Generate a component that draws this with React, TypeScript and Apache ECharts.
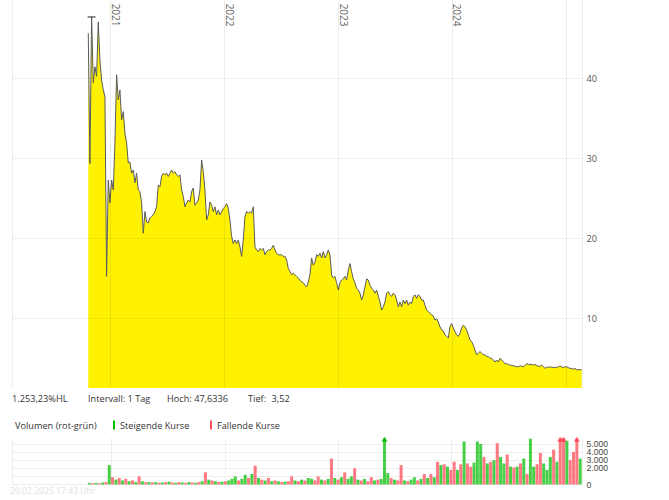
import React, { useEffect, useRef } from "react";
import * as echarts from "echarts";

// Closing prices (EUR), sampled every ~5.34 days from 21.10.2020 to 17.02.2025
const priceA = [
  45.6, 29.3, 47.63, 39.4, 41.4, 40.2, 47.0, 42.2, 39.75, 38.5, 37.7, 15.2, 27.25, 24.4, 27.25, 26,
  31.9, 40.4, 37.25, 38.5, 34.75, 35.8, 33.1, 31.9, 29.4, 29.5, 28.1, 28.5, 26.9, 28.1, 26, 25.8,
  24.4, 20.6, 23.3, 22.0, 21.9, 22.5, 22.7, 22.9, 23.3, 23.9, 26.6, 26.4, 27.7, 28.1, 27.9, 28.1,
  27.7, 28.1, 28.5, 28.1, 28.3, 27.9, 27.7, 27.9, 26, 25.2, 23.9, 24.4, 24.75, 24.5, 25.8, 26.25,
];
const priceB = [
  24.1, 24.4, 24.75, 26, 29.75, 28.3, 26, 22.25, 22.9, 24.5, 24.1, 23.3, 23.9, 22.9, 23.5, 22.9,
  23.3, 23.7, 23.9, 24.3, 23.7, 22.25, 20.2, 19.3, 19.75, 19.3, 19.75, 18.9, 17.7, 19.75, 22.7, 23.3,
  23.1, 23.3, 23.1, 23.9, 18.9, 18.5, 18.3, 18.7, 18.5, 18.7, 17.9, 18.3, 18.5, 18.5, 18.7, 19.1,
  18.5, 18.1, 17.9, 17.9, 17.9, 17.7, 17.7, 17.25, 16.2, 15.8, 15.4, 15.6, 15.4, 15.2, 15.0, 14.75,
  14.5, 14.4, 14.1, 13.9, 14.5, 15.4, 17.5, 16.6, 17.0, 17.9, 17.7, 18.1, 17.5, 18.3, 17.5, 17.9,
  18.5, 17.9, 15.4, 15.0,
];
const priceC = [
  15.2, 14.4, 13.5, 14.4, 14.75, 14.9, 15.2, 14.75, 16, 16.8, 15.8, 14.9, 14.4, 13.7, 13.5, 13.1,
  12.25, 12.9, 13.9, 14.9, 14.75, 14.1, 13.7, 13.5, 13.1, 13.5, 12.7, 12.0, 11.0, 11.4, 12.0, 13.1,
  13.3, 12.9, 12.7, 13.1, 12.9, 12.25, 11.4, 12.0, 11.4, 12.25, 11.8, 12.25, 11.6, 12.0, 11.8, 12.7,
  12.9, 12.45, 12.9, 12.7, 12.25, 12.25, 11.6, 11.0, 10.8, 10.6, 10.4, 10.25, 9.75, 9.9, 9.5, 8.9,
  8.5, 8.4, 7.9, 7.7, 7.5,
];
const priceD = [
  8.9, 9.3, 8.75, 8.3, 7.9, 7.7, 8.1, 8.75, 9.1, 8.9, 8.5, 7.9, 7.25, 7.05, 6.6, 6.0,
  5.4, 5.6, 5.8, 5.6, 5.4, 5.4, 5.2, 5.2, 4.96, 4.96, 4.75, 4.5, 4.75, 4.5, 4.96, 4.75,
  4.5, 4.3, 4.3, 4.2, 4.1, 4.1, 4.0, 4.0, 3.9, 3.9, 4.0, 4.0, 3.9, 4.05, 4.3, 4.2,
  4.2, 4.2, 4.1, 4.2, 4.05, 4.0, 3.95, 4.1, 3.9, 3.7, 3.9, 3.8, 3.9, 3.85, 3.8, 3.85,
  3.8, 3.9, 4.0, 3.9, 3.8, 3.9, 3.9, 3.8, 3.7, 3.7, 3.6, 3.7, 3.53, 3.55, 3.52, 3.55,
];

// Volume, one entry every 2 price samples; positive = steigend (green), negative = fallend (red)
const volumes = [
  200, -150, 200, -150, 250, -300, 2400, -900, 600, -800,
  500, -700, 400, -500, 300, -1000, 400, -300, 300, -250,
  300, -200, 250, -300, 350, -250, 200, -300, 250, -200,
  300, -250, 200, -300, 400, -1500, 600, -500, 400, -300,
  350, -400, 500, 700, 1000, -500, 700, 1200, -800, 1300,
  -2300, 800, -600, 500, -800, 400, -500, 400, -300, 350,
  -400, -1000, 500, -400, 600, -500, 800, 700, -500, -1000,
  600, -500, 700, -3200, 800, -600, 900, -1500, 700, 1000,
  -2000, 600, -500, 700, -400, -900, 500, -600, 700, 6500,
  1400, -800, 600, -500, -2400, 500, -400, 600, 900, -500,
  700, -1300, 800, -1300, 900, -2800, 2400, -2500, 2200, -1800,
  -2800, 1800, -2500, 5300, -2600, -2200, 2700, 5300, 5000, -3400,
  2600, -2800, 3000, -5100, 3400, 2600, -3700, 2200, -2100, 2200,
  -2600, 3200, -1300, 5650, 2200, -2500, -3900, 2600, 1800, 3400,
  -4300, 2800, -6500, -6500, 5400, -3000, -4000, -6500, 3200,
];

const volTickLabels = ["0", "1.000", "2.000", "3.000", "4.000", "5.000"];
const statHL = "1.253,23%HL";
const statInterval = "Intervall: 1 Tag";
const statHigh = "Hoch: 47,6336";
const statLowLabel = "Tief:";
const statLow = "3,52";
const volumeTitle = "Volumen (rot-grün)";
const upName = "Steigende Kurse";
const downName = "Fallende Kurse";
const footer = "20.02.2025 17:43 Uhr";

const DAY = 86400000;
const startTime = new Date(2020, 9, 21, 8).getTime();
const stepDays = 5.34;
const volStep = 2;
const axisMin = new Date(2020, 1, 20).getTime();
const axisMax = new Date(2025, 1, 21).getTime();
const priceMin = 1.25;
const priceMax = 49.75;
const volMax = 5700;

const FONT = "'Open Sans', 'Noto Sans', sans-serif";

export default function App() {
  const ref = useRef<HTMLDivElement>(null);
  useEffect(() => {
    if (!ref.current) return;
    const chart = echarts.init(ref.current, undefined, { renderer: "svg" });
    const prices = [...priceA, ...priceB, ...priceC, ...priceD];
    const priceData = prices.map((v, i) => [startTime + i * stepDays * DAY, v]);
    const volTime = (j: number) => startTime + j * volStep * stepDays * DAY;
    const upData = volumes.map((v, j) => [volTime(j), v > 0 ? v : "-"]);
    const downData = volumes.map((v, j) => [volTime(j), v < 0 ? -v : "-"]);
    const upArrows = volumes
      .map((v, j) => (v > volMax ? [volTime(j), volMax - 120] : null))
      .filter(Boolean);
    const downArrows = volumes
      .map((v, j) => (-v > volMax ? [volTime(j), volMax - 120] : null))
      .filter(Boolean);

    const yearLabel = (val: number) => {
      const d = new Date(val);
      if (d.getMonth() === 0 && d.getDate() === 1 && d.getFullYear() < 2025) return String(d.getFullYear());
      return "";
    };

    const textStyle = (x: number, y: number, text: string, extra: any = {}) => ({
      type: "text",
      x,
      y,
      silent: true,
      style: {
        text,
        fill: "#333",
        fontSize: 9.2,
        fontFamily: FONT,
        verticalAlign: "middle",
        ...extra,
      },
    });

    const gridBase = { left: 12, right: 86.4, containLabel: false, outerBoundsMode: "none" };

    chart.setOption({
      animation: false,
      backgroundColor: "#ffffff",
      grid: [
        // price plot (value 1.25 .. 49.75)
        { ...gridBase, top: 0, height: 388 },
        // volume plot
        { ...gridBase, top: 438.3, height: 46.2 },
        // price scale (0 .. 50), same px per unit as the price plot
        { ...gridBase, top: -2, height: 400 },
      ],
      xAxis: [
        {
          type: "time",
          gridIndex: 0,
          min: axisMin,
          max: axisMax,
          position: "top",
          offset: -24.5,
          splitNumber: 5,
          minInterval: 300 * DAY,
          axisLine: { show: false },
          axisTick: { show: false },
          axisLabel: {
            inside: true,
            rotate: 90,
            align: "right",
            verticalAlign: "bottom",
            margin: 2,
            color: "#666",
            fontSize: 10,
            fontFamily: FONT,
            formatter: yearLabel,
          },
          splitLine: { show: true, lineStyle: { color: "rgba(0,0,0,0.07)", width: 1 } },
          z: 3,
        },
        {
          type: "time",
          gridIndex: 1,
          min: axisMin,
          max: axisMax,
          splitNumber: 5,
          minInterval: 300 * DAY,
          axisLine: { show: false },
          axisTick: { show: false },
          axisLabel: { show: false },
          splitLine: { show: true, lineStyle: { color: "#eeeeee", width: 1 } },
        },
        {
          type: "time",
          gridIndex: 2,
          min: axisMin,
          max: axisMax,
          show: false,
        },
      ],
      yAxis: [
        {
          type: "value",
          gridIndex: 0,
          min: priceMin,
          max: priceMax,
          interval: priceMax - priceMin,
          show: false,
        },
        {
          type: "value",
          gridIndex: 1,
          position: "right",
          min: 0,
          max: volMax,
          interval: 1000,
          axisLine: { show: false },
          axisTick: { show: false },
          axisLabel: {
            margin: 4,
            color: "#444",
            fontSize: 8.6,
            lineHeight: 8,
            fontFamily: "'Liberation Sans', Arial, sans-serif",
            showMinLabel: true,
            showMaxLabel: false,
            formatter: (v: number) => (v % 1000 === 0 ? volTickLabels[v / 1000] || "" : ""),
          },
          splitLine: {
            show: true,
            showMaxLine: false,
            lineStyle: { color: "#eeeeee", width: 1 },
          },
        },
        {
          type: "value",
          gridIndex: 2,
          position: "right",
          min: 0,
          max: 50,
          interval: 10,
          axisLine: { show: false },
          axisTick: { show: false },
          axisLabel: {
            margin: 4,
            color: "#555",
            fontSize: 9.2,
            fontFamily: FONT,
            showMinLabel: false,
            showMaxLabel: false,
          },
          splitLine: {
            show: true,
            showMinLine: false,
            showMaxLine: false,
            lineStyle: { color: "rgba(0,0,0,0.06)", width: 1 },
          },
          z: 3,
        },
      ],
      legend: [
        {
          data: [{ name: upName, itemStyle: { color: "#00c000", opacity: 1 } }],
          left: 113,
          top: 420.5,
          padding: 0,
          icon: "rect",
          itemWidth: 2,
          itemHeight: 9,
          selectedMode: false,
          textStyle: { fontSize: 9.2, color: "#333", fontFamily: FONT },
        },
        {
          data: [{ name: downName, itemStyle: { color: "#ff5060", opacity: 1 } }],
          left: 210,
          top: 420.5,
          padding: 0,
          icon: "rect",
          itemWidth: 2,
          itemHeight: 9,
          selectedMode: false,
          textStyle: { fontSize: 9.2, color: "#333", fontFamily: FONT },
        },
      ],
      graphic: [
        textStyle(12, 398, statHL),
        textStyle(88, 398, statInterval),
        textStyle(167, 398, statHigh),
        textStyle(248, 398, statLowLabel),
        textStyle(271.5, 398, statLow),
        textStyle(15, 425, volumeTitle),
        textStyle(10, 491, footer, { fill: "#e2e2e2", fontSize: 8.6 }),
      ],
      series: [
        {
          type: "line",
          name: "Kurs",
          xAxisIndex: 0,
          yAxisIndex: 0,
          data: priceData,
          symbol: "none",
          lineStyle: { color: "#5a5a5a", width: 1 },
          areaStyle: { color: "#fff200", opacity: 1 },
          markPoint: {
            symbol: "rect",
            symbolSize: [8, 1.2],
            itemStyle: { color: "#444" },
            label: { show: false },
            data: [{ type: "max" }],
          },
          z: 2,
        },
        {
          type: "bar",
          name: upName,
          xAxisIndex: 1,
          yAxisIndex: 1,
          data: upData,
          barWidth: 3,
          barGap: "-100%",
          itemStyle: { color: "rgba(0,190,0,0.72)" },
        },
        {
          type: "bar",
          name: downName,
          xAxisIndex: 1,
          yAxisIndex: 1,
          data: downData,
          barWidth: 3,
          barGap: "-100%",
          itemStyle: { color: "rgba(255,50,65,0.65)" },
        },
        {
          type: "scatter",
          name: "upArrow",
          xAxisIndex: 1,
          yAxisIndex: 1,
          data: upArrows,
          symbol: "triangle",
          symbolSize: [6, 5],
          itemStyle: { color: "#00b000" },
          z: 4,
        },
        {
          type: "scatter",
          name: "downArrow",
          xAxisIndex: 1,
          yAxisIndex: 1,
          data: downArrows,
          symbol: "triangle",
          symbolSize: [6, 5],
          itemStyle: { color: "#ff4050" },
          z: 4,
        },
      ],
    });
    return () => chart.dispose();
  }, []);
  return (
    <div
      ref={ref}
      style={{ position: "fixed", left: 0, top: 0, width: 669, height: 500, background: "#fff" }}
    />
  );
}
